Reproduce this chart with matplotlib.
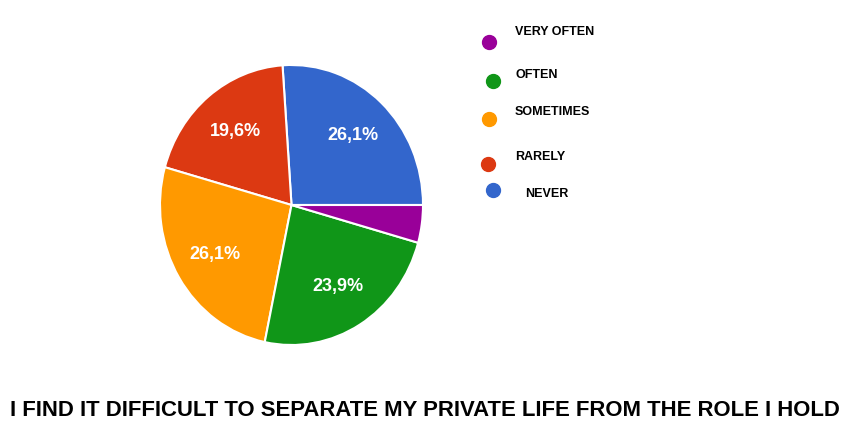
import matplotlib
matplotlib.use("Agg")
import matplotlib.pyplot as plt
from matplotlib.lines import Line2D

# the reference is stored upside down: title at the bottom, legend reversed
categories = ["NEVER", "RARELY", "SOMETIMES", "OFTEN", "VERY OFTEN"]
counts = [12, 9, 12, 11, 2]
colors = ["#3366cc", "#dc3912", "#ff9900", "#109618", "#990099"]
title = "I FIND IT DIFFICULT TO SEPARATE MY PRIVATE LIFE FROM THE ROLE I HOLD"

# legend entries as they sit in the picture, top to bottom
legend_order = ["VERY OFTEN", "OFTEN", "SOMETIMES", "RARELY", "NEVER"]

plt.rcParams['font.family'] = ['Liberation Sans', 'DejaVu Sans']

W, H = 856, 436
fig = plt.figure(figsize=(W / 100, H / 100), dpi=100)

# pie box in pixels (left, top, right, bottom)
px_l, px_t, px_r, px_b = 160, 65, 423, 345
ax = fig.add_axes([px_l / W, 1 - px_b / H, (px_r - px_l) / W, (px_b - px_t) / H])

def fmt(p):
    # small slices get no label, like the reference
    if p < 5:
        return ""
    return ("%.1f%%" % p).replace(".", ",")

wedges, texts, autotexts = ax.pie(
    counts, colors=colors, startangle=0, counterclock=True,
    autopct=fmt, pctdistance=0.68,
    wedgeprops=dict(edgecolor="white", linewidth=1.5),
    textprops=dict(color="white", fontsize=13, fontweight="bold"),
)
ax.set_aspect("auto")
ax.set_xlim(-1, 1)
ax.set_ylim(-1, 1)

# legend, placed by hand since the spacing is uneven
marker_pos = {"VERY OFTEN": (489, 42), "OFTEN": (493, 81), "SOMETIMES": (489, 119),
              "RARELY": (488, 164), "NEVER": (493, 190)}
text_pos = {"VERY OFTEN": (515, 32), "OFTEN": (516, 75), "SOMETIMES": (515, 112),
            "RARELY": (515, 157), "NEVER": (525, 194)}
for name in legend_order:
    c = colors[categories.index(name)]
    mx, my = marker_pos[name]
    fig.add_artist(Line2D([mx / W], [1 - my / H], marker="o", markersize=10,
                          color=c, linestyle="none", transform=fig.transFigure))
    tx, ty = text_pos[name]
    fig.text(tx / W, 1 - ty / H, name, fontsize=9, fontweight="bold",
             ha="left", va="center", color="black")

fig.text(425 / W, 1 - 410 / H, title, fontsize=15.9, fontweight="bold",
         ha="center", va="center", color="black")

fig.savefig("out.png", dpi=100)
